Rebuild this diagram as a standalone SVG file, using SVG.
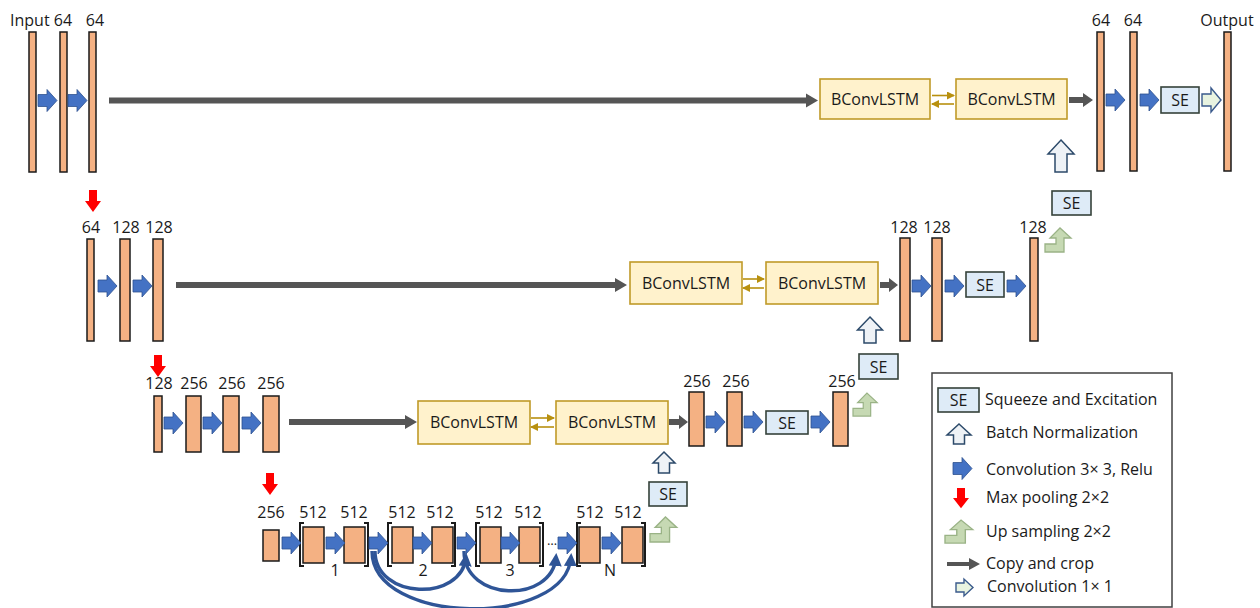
<svg xmlns="http://www.w3.org/2000/svg" xmlns:xlink="http://www.w3.org/1999/xlink" width="1260" height="608" viewBox="0 0 1260 608">
<style>
text{font-family:"Open Sans","Noto Sans",sans-serif;font-size:16px;fill:#1a1a1a}
.c{text-anchor:middle}
.s{font-size:16px}
.bar{fill:#F4B183;stroke:#1a1a1a;stroke-width:1.5}
.conv{fill:#4472C4;stroke:#2F528F;stroke-width:0.8}
.lstm{fill:#FFF2CC;stroke:#C09A28;stroke-width:1.6}
.se{fill:#DEEBF7;stroke:#35423A;stroke-width:1.6}
.bn{fill:#EEF2F6;stroke:#2C4A6A;stroke-width:1.5;stroke-linejoin:miter}
.up{fill:#C6D9B3;stroke:#9AB386;stroke-width:1.3}
.pool{fill:#FF0000}
.copy{fill:#555555}
.c11{fill:#E8F3E0;stroke:#3A5A8C;stroke-width:1.4}
.gold{stroke:#B8900F;stroke-width:1.6;fill:none}
.arc{stroke:#2F5597;stroke-width:3.4;fill:none}
.brk{stroke:#1a1a1a;stroke-width:2;fill:none}
</style>
<defs>
<path id="conv" d="M0,-6 H9 V-11 L19,0 L9,11 V6 H0 Z"/>
<path id="pool" d="M-4,0 H4 V11 H8 L0,22 L-8,11 H-4 Z"/>
<path id="up" d="M0,24 V16 H11 V10 H5 L15,0 L26,10 H19 V24 Z"/>
<marker id="gh" markerUnits="userSpaceOnUse" markerWidth="8" markerHeight="8" viewBox="0 0 8 8" refX="7" refY="4" orient="auto"><path d="M0,0 L8,4 L0,8 Z" fill="#B8900F"/></marker>
<marker id="bh" markerUnits="userSpaceOnUse" markerWidth="13" markerHeight="13" viewBox="0 0 10 10" refX="7" refY="5" orient="auto"><path d="M0,0 L10,5 L0,10 Z" fill="#2F5597"/></marker>
</defs>

<g id="level1">
  <text x="10" y="26">Input</text>
  <text class="c" x="63" y="26">64</text>
  <text class="c" x="95" y="26">64</text>
  <rect class="bar" x="29" y="32" width="7" height="140"/>
  <rect class="bar" x="60" y="32" width="7" height="140"/>
  <rect class="bar" x="89" y="32" width="7" height="140"/>
  <use href="#conv" class="conv" transform="translate(38,100.5)"/>
  <use href="#conv" class="conv" transform="translate(68,100.5)"/>
</g>
<g id="lstm1a"><rect class="lstm" x="820" y="79" width="110" height="40"/><text class="c" x="875" y="105">BConvLSTM</text></g>
<g id="lstm1b"><rect class="lstm" x="956" y="79" width="111" height="40"/><text class="c" x="1011.5" y="105">BConvLSTM</text></g>
<g id="dec1">
  <text class="c" x="1101" y="26">64</text>
  <text class="c" x="1133" y="26">64</text>
  <text class="c" x="1227" y="26">Output</text>
  <rect class="bar" x="1097" y="32" width="7" height="139"/>
  <rect class="bar" x="1130" y="32" width="7" height="139"/>
  <rect class="bar" x="1224" y="32" width="7" height="139"/>
  <use href="#conv" class="conv" transform="translate(1106,100)"/>
  <use href="#conv" class="conv" transform="translate(1140,100)"/>
  <rect class="se" x="1161" y="87" width="38" height="26"/><text class="c s" x="1180" y="106">SE</text>
  <path class="c11" d="M1202,94 H1211 V88 L1221,100 L1211,112 V106 H1202 Z"/>
  <path class="bn" d="M1061,140 L1074,154 H1067 V172 H1055 V154 H1048 Z"/>
  <rect class="se" x="1052" y="191" width="39" height="24"/><text class="c s" x="1071.5" y="209">SE</text>
  <use href="#up" class="up" transform="translate(1045,228)"/>
</g>

<g id="level2">
  <use href="#pool" class="pool" transform="translate(93,190)"/>
  <text class="c" x="91" y="233">64</text>
  <text class="c" x="126" y="233">128</text>
  <text class="c" x="159" y="233">128</text>
  <rect class="bar" x="87" y="239" width="7" height="102"/>
  <rect class="bar" x="120" y="239" width="10" height="102"/>
  <rect class="bar" x="153" y="239" width="10" height="102"/>
  <use href="#conv" class="conv" transform="translate(98,286)"/>
  <use href="#conv" class="conv" transform="translate(133,286)"/>
</g>
<g id="lstm2a"><rect class="lstm" x="630" y="262" width="112" height="42"/><text class="c" x="686" y="289">BConvLSTM</text></g>
<g id="lstm2b"><rect class="lstm" x="766" y="262" width="112" height="42"/><text class="c" x="822" y="289">BConvLSTM</text></g>
<g id="dec2">
  <text class="c" x="904" y="233">128</text>
  <text class="c" x="937" y="233">128</text>
  <text class="c" x="1033" y="233">128</text>
  <rect class="bar" x="900" y="238" width="10" height="103"/>
  <rect class="bar" x="932" y="238" width="10" height="103"/>
  <rect class="bar" x="1030" y="238" width="8" height="103"/>
  <use href="#conv" class="conv" transform="translate(912,286)"/>
  <use href="#conv" class="conv" transform="translate(945,286)"/>
  <rect class="se" x="966" y="272" width="38" height="25"/><text class="c s" x="985" y="290.5">SE</text>
  <use href="#conv" class="conv" transform="translate(1007,286)"/>
  <path class="bn" d="M870,317 L882.5,330 H876 V343 H864 V330 H857.5 Z"/>
  <rect class="se" x="859" y="354" width="39" height="25"/><text class="c s" x="878.5" y="372.5">SE</text>
  <use href="#up" class="up" transform="translate(853,393) scale(0.93,0.96)"/>
</g>

<g id="level3">
  <use href="#pool" class="pool" transform="translate(158,355)"/>
  <text class="c" x="159" y="389">128</text>
  <text class="c" x="194" y="389">256</text>
  <text class="c" x="232" y="389">256</text>
  <text class="c" x="271" y="389">256</text>
  <rect class="bar" x="154" y="396" width="8" height="56"/>
  <rect class="bar" x="186" y="396" width="15" height="56"/>
  <rect class="bar" x="223" y="396" width="16" height="56"/>
  <rect class="bar" x="263" y="396" width="16" height="56"/>
  <use href="#conv" class="conv" transform="translate(164,423)"/>
  <use href="#conv" class="conv" transform="translate(203,423)"/>
  <use href="#conv" class="conv" transform="translate(242,423)"/>
</g>
<g id="lstm3a"><rect class="lstm" x="418" y="401" width="112" height="43"/><text class="c" x="474" y="428">BConvLSTM</text></g>
<g id="lstm3b"><rect class="lstm" x="556" y="401" width="112" height="43"/><text class="c" x="612" y="428">BConvLSTM</text></g>
<g id="dec3">
  <text class="c" x="697" y="387">256</text>
  <text class="c" x="736" y="387">256</text>
  <text class="c" x="842" y="387">256</text>
  <rect class="bar" x="689" y="392" width="15" height="54"/>
  <rect class="bar" x="727" y="392" width="15" height="54"/>
  <rect class="bar" x="833" y="392" width="15" height="54"/>
  <use href="#conv" class="conv" transform="translate(706,422)"/>
  <use href="#conv" class="conv" transform="translate(744,422)"/>
  <rect class="se" x="766" y="411" width="42" height="23"/><text class="c s" x="787" y="428.5">SE</text>
  <use href="#conv" class="conv" transform="translate(811,422)"/>
  <path class="bn" d="M664,452 L675,463 H669.5 V473 H658.5 V463 H653 Z"/>
  <rect class="se" x="649" y="482" width="38" height="24"/><text class="c s" x="668" y="500">SE</text>
  <use href="#up" class="up" transform="translate(650,517) scale(1.03,1.04)"/>
</g>

<g id="level4">
  <use href="#pool" class="pool" transform="translate(270,473)"/>
  <text class="c" x="271" y="518">256</text>
  <text class="c" x="313" y="518">512</text>
  <text class="c" x="354" y="518">512</text>
  <text class="c" x="402" y="518">512</text>
  <text class="c" x="440" y="518">512</text>
  <text class="c" x="489" y="518">512</text>
  <text class="c" x="528" y="518">512</text>
  <text class="c" x="590" y="518">512</text>
  <text class="c" x="628" y="518">512</text>
  <rect class="bar" x="263" y="530" width="16" height="31"/>
  <rect class="bar" x="303" y="527" width="21" height="36"/>
  <rect class="bar" x="344" y="527" width="21" height="36"/>
  <rect class="bar" x="392" y="527" width="21" height="36"/>
  <rect class="bar" x="432" y="527" width="21" height="36"/>
  <rect class="bar" x="480" y="527" width="21" height="36"/>
  <rect class="bar" x="519" y="527" width="21" height="36"/>
  <rect class="bar" x="579" y="527" width="21" height="36"/>
  <rect class="bar" x="622" y="527" width="21" height="36"/>
  <path class="brk" d="M304,523 H300 V566 H304 M364,523 H368 V566 H364"/>
  <path class="brk" d="M392,523 H388 V566 H392 M451,523 H455 V566 H451"/>
  <path class="brk" d="M480,523 H476 V566 H480 M539,523 H543 V566 H539"/>
  <path class="brk" d="M581,523 H577 V566 H581 M641,523 H645 V566 H641"/>
  <text class="c" x="335" y="576">1</text>
  <text class="c" x="423" y="576">2</text>
  <text class="c" x="510" y="576">3</text>
  <text class="c" x="610" y="576">N</text>
  <text class="c" x="552" y="545" style="font-size:13px">…</text>
  <use href="#conv" class="conv" transform="translate(282,543)"/>
  <use href="#conv" class="conv" transform="translate(326,543)"/>
  <use href="#conv" class="conv" transform="translate(369,543)"/>
  <use href="#conv" class="conv" transform="translate(413,543)"/>
  <use href="#conv" class="conv" transform="translate(457,543)"/>
  <use href="#conv" class="conv" transform="translate(501,543)"/>
  <use href="#conv" class="conv" transform="translate(558,543)"/>
  <use href="#conv" class="conv" transform="translate(602,543)"/>
</g>

<g id="connectors">
  <path class="copy" d="M109,97.5 H806 V93.5 L818,100.5 L806,107.5 V103.5 H109 Z"/>
  <path class="copy" d="M176,282 H615 V278 L627,285 L615,292 V288 H176 Z"/>
  <path class="copy" d="M289,419 H405 V415 L417,422 L405,429 V425 H289 Z"/>
  <path class="copy" d="M1069,97 H1083 V93 L1093,100 L1083,107 V103 H1069 Z"/>
  <path class="copy" d="M880,282 H889 V278 L898,285 L889,292 V288 H880 Z"/>
  <path class="copy" d="M669,419 H679 V415 L688,422 L679,429 V425 H669 Z"/>
  <line class="gold" x1="932" y1="95.5" x2="954" y2="95.5" marker-end="url(#gh)"/>
  <line class="gold" x1="954" y1="104" x2="932" y2="104" marker-end="url(#gh)"/>
  <line class="gold" x1="743" y1="279" x2="764" y2="279" marker-end="url(#gh)"/>
  <line class="gold" x1="764" y1="288" x2="743" y2="288" marker-end="url(#gh)"/>
  <line class="gold" x1="531" y1="418" x2="554" y2="418" marker-end="url(#gh)"/>
  <line class="gold" x1="554" y1="427" x2="531" y2="427" marker-end="url(#gh)"/>
  <path class="arc" d="M375,551 C375,600 462,602 466,557" marker-end="url(#bh)"/>
  <path class="arc" d="M372,551 C372,626 566,628 571,557" marker-end="url(#bh)"/>
  <path class="arc" d="M464,551 C464,602 552,604 556,557" marker-end="url(#bh)"/>
</g>

<g id="legend">
  <rect x="932" y="373" width="240" height="234" fill="#FFFFFF" stroke="#404040" stroke-width="1.5"/>
  <rect class="se" x="938" y="388" width="41" height="24"/><text class="c s" x="958.5" y="406">SE</text>
  <text x="985" y="405">Squeeze and Excitation</text>
  <path class="bn" d="M959,424 L971,435 H964.5 V444 H953.5 V435 H947 Z"/>
  <text x="986" y="438">Batch Normalization</text>
  <use href="#conv" class="conv" transform="translate(953,468.5)"/>
  <text x="986" y="475">Convolution 3× 3, Relu</text>
  <use href="#pool" class="pool" transform="translate(961,488) scale(1,0.92)"/>
  <text x="986" y="503">Max pooling 2×2</text>
  <use href="#up" class="up" transform="translate(945,520) scale(1.07,0.96)"/>
  <text x="986" y="537">Up sampling 2×2</text>
  <path class="copy" d="M947,562 H969 V558 L980,564 L969,570 V566 H947 Z"/>
  <text x="986" y="569">Copy and crop</text>
  <path class="c11" d="M956,583 H964 V579 L973,587.5 L964,596 V592 H956 Z"/>
  <text x="987" y="592">Convolution 1× 1</text>
</g>
</svg>
